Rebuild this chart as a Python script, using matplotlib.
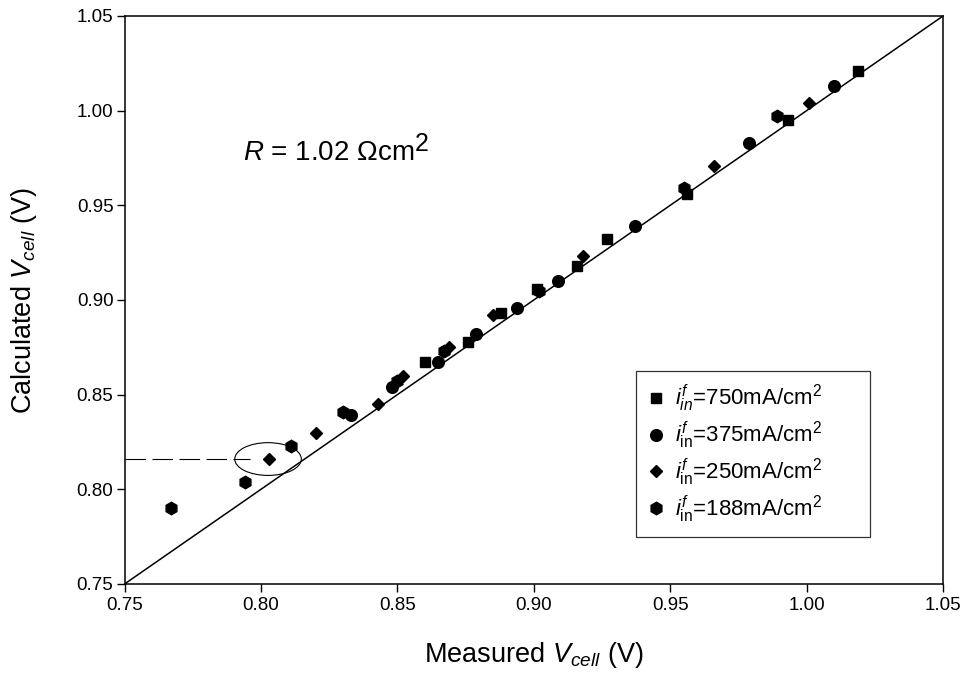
import matplotlib
matplotlib.use("Agg")
import matplotlib.pyplot as plt
from matplotlib.patches import Ellipse
from matplotlib.transforms import IdentityTransform

plt.rcParams["font.family"] = ["Liberation Sans", "DejaVu Sans"]
plt.rcParams["mathtext.fontset"] = "custom"
plt.rcParams["mathtext.rm"] = "Liberation Sans"
plt.rcParams["mathtext.it"] = "Liberation Sans:italic"
plt.rcParams["mathtext.bf"] = "Liberation Sans:bold"

# Measured vs calculated cell voltage for four inlet current densities
meas_750 = [0.860, 0.876, 0.888, 0.901, 0.916, 0.927, 0.956, 0.993, 1.019]
calc_750 = [0.867, 0.878, 0.893, 0.906, 0.918, 0.932, 0.956, 0.995, 1.021]

meas_375 = [0.833, 0.848, 0.865, 0.879, 0.894, 0.909, 0.937, 0.979, 1.010]
calc_375 = [0.839, 0.854, 0.867, 0.882, 0.896, 0.910, 0.939, 0.983, 1.013]

meas_250 = [0.803, 0.820, 0.843, 0.852, 0.869, 0.885, 0.918, 0.966, 1.001]
calc_250 = [0.816, 0.830, 0.845, 0.860, 0.875, 0.892, 0.923, 0.971, 1.004]

meas_188 = [0.767, 0.794, 0.811, 0.830, 0.850, 0.867, 0.902, 0.955, 0.989]
calc_188 = [0.790, 0.804, 0.823, 0.841, 0.857, 0.873, 0.905, 0.959, 0.997]

labels = [
    r"$i^{f}_{in}$=750mA/cm$^{2}$",
    r"$i^{f}_{\mathrm{in}}$=375mA/cm$^{2}$",
    r"$i^{f}_{\mathrm{in}}$=250mA/cm$^{2}$",
    r"$i^{f}_{\mathrm{in}}$=188mA/cm$^{2}$",
]

ticks = [0.75, 0.80, 0.85, 0.90, 0.95, 1.00, 1.05]
resistance = 1.02
highlight_x = meas_250[0]
highlight_y = calc_250[0]

fig = plt.figure(figsize=(9.70, 6.89), dpi=100)
ax = fig.add_axes([0.1284, 0.1524, 0.9722 - 0.1284, 0.9768 - 0.1524])

# parity line
ax.plot([ticks[0], ticks[-1]], [ticks[0], ticks[-1]], color="black", lw=1.1, zorder=2)

mk = dict(color="black", linestyle="none", zorder=3)
ax.plot(meas_750, calc_750, marker="s", ms=7.5, label=labels[0], **mk)
ax.plot(meas_375, calc_375, marker="o", ms=8.4, label=labels[1], **mk)
ax.plot(meas_250, calc_250, marker="D", ms=6.6, label=labels[2], **mk)
ax.plot(meas_188, calc_188, marker="h", ms=9, label=labels[3], **mk)

# highlighted point: dashed guide to the y axis and an ellipse around it
ax.plot([ticks[0], highlight_x - 0.007], [highlight_y, highlight_y], color="black",
        lw=0.8, dashes=(18.5, 5.8), zorder=2)
ax.add_patch(Ellipse((highlight_x - 0.0004, highlight_y), width=0.0244, height=0.0173,
                     fill=False, edgecolor="black", lw=0.8, zorder=2))

ax.set_xlim(ticks[0], ticks[-1])
ax.set_ylim(ticks[0], ticks[-1])
ax.set_xticks(ticks)
ax.set_yticks(ticks)
ax.set_xticklabels(["%.2f" % t for t in ticks])
ax.set_yticklabels(["%.2f" % t for t in ticks])
ax.tick_params(direction="out", length=5.5, width=1, labelsize=13.5,
               top=False, right=False)
ax.tick_params(axis="x", pad=4)
ax.tick_params(axis="y", pad=2.5)
for s in ax.spines.values():
    s.set_linewidth(1.1)

ax.set_xlabel(r"Measured $V_{cell}$ (V)", fontsize=19.5)
ax.set_ylabel(r"Calculated $V_{cell}$ (V)", fontsize=19.5)
ax.xaxis.set_label_coords(0.5, -0.099)
ax.yaxis.set_label_coords(-0.105, 0.5)

leg = ax.legend(loc="upper left", bbox_to_anchor=(0.625, 0.375, 0.286, 0.0),
                mode="expand", borderaxespad=0,
                fontsize=16, frameon=True, fancybox=False, edgecolor="black",
                handlelength=0.7, handletextpad=0.5, labelspacing=0.25,
                borderpad=0.55, numpoints=1)
leg.get_frame().set_linewidth(0.9)

# resistance annotation with a full-size raised exponent
rx, ry = 0.7934, 0.974
rtxt = ax.text(rx, ry, r"$R$ = %.2f $\Omega$cm" % resistance, fontsize=20,
               ha="left", va="baseline")
fig.canvas.draw()
bb = rtxt.get_window_extent()
base = ax.transData.transform((rx, ry))
fig.text(bb.x1 + 1, base[1] + 9, "2", fontsize=18, ha="left", va="baseline",
         transform=IdentityTransform())

fig.savefig("out.png", dpi=100)
